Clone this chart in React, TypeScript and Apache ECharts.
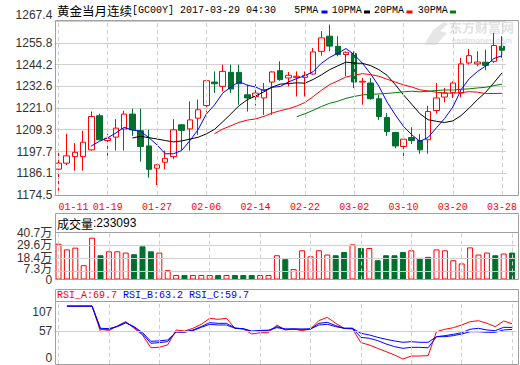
import React, { useEffect, useRef } from "react";
import * as echarts from "echarts";

// ---------- data ----------
const dates = [
  "01-11","01-12","01-13","01-16","01-17","01-18","01-19","01-20","01-23","01-24",
  "01-25","01-26","01-27","01-30","01-31","02-01","02-02","02-03","02-06","02-07",
  "02-08","02-09","02-10","02-13","02-14","02-15","02-16","02-17","02-20","02-21",
  "02-22","02-23","02-24","02-27","02-28","03-01","03-02","03-03","03-06","03-07",
  "03-08","03-09","03-10","03-13","03-14","03-15","03-16","03-17","03-20","03-21",
  "03-22","03-23","03-24","03-27","03-28"
];
const gridDates = ["01-11","01-19","01-27","02-06","02-14","02-22","03-02","03-10","03-20","03-28"];

const opens = [
  1188.3,1191.5,1195.0,1195.0,1198.6,1216.8,1203.6,1205.4,1209.7,1217.7,
  1208.8,1200.7,1188.8,1192.0,1195.0,1212.0,1209.8,1215.5,1222.3,1234.8,
  1232.5,1240.0,1240.0,1228.0,1227.1,1226.3,1234.8,1240.9,1237.0,1237.3,
  1237.3,1239.1,1251.2,1259.3,1253.9,1249.5,1250.0,1234.8,1234.3,1225.9,
  1215.9,1207.9,1200.4,1205.2,1203.6,1204.0,1219.6,1226.8,1229.3,1228.9,
  1245.0,1244.5,1245.4,1245.9,1253.9
];
const closes = [
  1191.5,1195.4,1197.3,1202.7,1216.4,1204.0,1204.8,1210.2,1217.7,1209.3,
  1200.4,1188.2,1190.6,1194.1,1209.3,1209.0,1214.6,1220.0,1235.5,1233.9,
  1240.5,1231.1,1233.9,1226.3,1228.9,1230.7,1240.2,1236.1,1238.4,1237.9,
  1238.4,1250.9,1258.4,1254.0,1249.5,1250.7,1234.8,1235.2,1225.9,1216.4,
  1208.4,1200.7,1204.3,1203.6,1198.6,1219.1,1226.3,1228.9,1234.3,1244.5,
  1248.9,1245.5,1243.7,1254.3,1251.8
];
const lows = [
  1176.8,1190.5,1187.5,1187.5,1198.2,1203.6,1195.4,1198.2,1198.2,1206.1,
  1192.3,1183.8,1179.8,1188.2,1193.6,1198.6,1198.2,1206.6,1218.6,1229.0,
  1229.8,1229.0,1222.7,1219.1,1222.2,1217.3,1217.3,1235.5,1232.5,1227.1,
  1227.1,1238.8,1248.9,1251.2,1248.6,1237.9,1231.6,1222.7,1225.4,1214.6,
  1206.1,1199.5,1194.7,1201.8,1196.5,1196.5,1217.9,1224.0,1226.3,1226.6,
  1244.1,1243.2,1241.1,1245.0,1247.7
];
const highs = [
  1199.0,1207.2,1202.2,1208.8,1219.1,1217.9,1207.2,1215.0,1219.5,1220.5,
  1220.5,1209.3,1190.9,1198.2,1215.0,1212.3,1224.5,1225.4,1236.1,1240.5,
  1244.1,1244.1,1244.1,1233.4,1233.8,1234.3,1240.5,1245.9,1240.2,1240.5,
  1240.5,1253.0,1262.0,1265.5,1259.3,1251.1,1251.2,1237.0,1237.0,1228.0,
  1218.2,1208.2,1206.1,1210.7,1207.0,1222.2,1234.3,1231.6,1235.2,1247.7,
  1252.5,1251.2,1252.1,1261.1,1259.3
];
// volume in units of 万 (10,000)
const volumes = [
  31.0,26.1,27.6,12.4,36.2,21.0,24.4,24.4,23.3,21.9,
  28.7,24.4,23.3,8.1,3.9,3.9,3.9,3.9,3.9,3.9,
  3.9,3.9,3.9,3.9,3.9,3.9,21.0,17.6,9.0,25.3,
  20.1,25.3,21.6,21.0,23.8,30.4,27.3,27.3,16.7,21.0,
  21.0,23.8,25.3,18.7,19.6,26.1,25.3,16.7,13.9,27.8,
  21.6,23.3,21.0,22.5,23.3
];
const rsiA = [
  null,100,100,100,100,55.9,57.6,65.7,73.2,61.7,
  50.2,28,29,33,58.8,57,61.7,68.6,79,77.2,
  79,61.7,60.5,51.9,54,54.2,67.4,58.8,60.5,57.6,
  60.5,75,80.7,70.3,61.7,60.5,37,32.9,27,21.4,
  15.6,8.6,13.8,13.8,14.4,55.8,60,62.7,67.4,73.1,
  74.8,70.3,64.5,74.3,69.7
];
const rsiB = [
  null,100,100,100,100,60.0,60.0,65.2,72.0,63.5,
  52.0,35.8,37,38.6,56,55.5,58.8,64.6,71.5,70.3,
  70.3,62,60.8,55.9,57,57.6,64.6,60.5,60.5,60,
  60.5,70.3,72,66.3,61.7,61.7,46,44.4,40.4,34.6,
  30,27.1,28.8,28.8,28,47.2,49,51.3,54.1,60,
  61.7,58.8,57.6,63.4,63.2
];
const rsiC = [
  null,100,100,100,100,61.7,61.1,64.6,71.0,64.6,
  54.2,39.2,40,41.5,55,55,57.6,63.4,68.6,67.4,
  67.4,62,61,57,58,58.5,62.9,60,60.5,60.3,
  60.5,67.4,68.6,64.6,61.7,61.7,53,50.2,46.1,42.7,
  39.8,37.5,38.6,37.5,37.5,47.2,47.2,49,51.8,55.8,
  55.8,54.8,54.8,58.8,59.7
];

const priceMin = 1174.5;
const priceMax = 1267.4;
const priceStep = 11.6125;
const priceTickLabels = ["1174.5","1186.1","1197.7","1209.3","1221.0","1232.6","1244.2","1255.8","1267.4"];
const volTickValues = [0, 7.3, 18.4, 29.6, 40.7];
const volTickLabels = ["0", "7.3万", "18.4万", "29.6万", "40.7万"];
const rsiTickValues = [0, 57, 107];
const rsiTickLabels = ["0", "57", "107"];

const titleName = "黄金当月连续";
const titleCode = "[GC00Y] 2017-03-29 04:30";
const volumeHeader = "233093";
const rsiHeader = ["RSI_A:69.7", "RSI_B:63.2", "RSI_C:59.7"];

// ---------- styles ----------
const RED = "#ff0000";
const GREEN = "#00702f";
const BLUE = "#0000ff";
const BORDER = "#a0a0a0";
const GRIDC = "#cfcfcf";
const MONO = "'Liberation Mono', 'DejaVu Sans Mono', monospace";
const SANS = "'Liberation Sans', Arial, 'Noto Sans CJK SC', sans-serif";
const CJK = "'Noto Sans CJK SC', sans-serif";

function movingAverage(values: number[], n: number) {
  return values.map((_, i) => {
    if (i < n - 1) return null;
    let s = 0;
    for (let k = i - n + 1; k <= i; k++) s += values[k];
    return +(s / n).toFixed(2);
  });
}

const vLines = gridDates.map((d) => ({ xAxis: d }));
const dashed = { type: [4, 3] as any, color: GRIDC, width: 1 };

function gridMarkSeries(xi: number, hValues: number[]) {
  return {
    type: "line",
    xAxisIndex: xi,
    yAxisIndex: xi,
    data: dates.map(() => null),
    z: 1,
    silent: true,
    symbol: "none",
    markLine: {
      silent: true,
      symbol: "none",
      label: { show: false },
      animation: false,
      lineStyle: dashed,
      data: [
        ...vLines,
        ...hValues.map((v) => ({ yAxis: v, lineStyle: { type: "solid", color: GRIDC, width: 1 } })),
      ],
    },
  };
}

export default function App() {
  const ref = useRef<HTMLDivElement>(null);
  useEffect(() => {
    document.body.style.margin = "0";
    const chart = echarts.init(ref.current!, undefined, { renderer: "svg" });
    const candle = dates.map((_, i) => [opens[i], closes[i], lows[i], highs[i]]);
    const maDefs = [
      { n: 5, color: BLUE },
      { n: 10, color: "#000000" },
      { n: 20, color: RED },
      { n: 30, color: "#008000" },
    ];
    const yLabelBase = {
      fontSize: 12, color: "#333", fontFamily: SANS, margin: 2,
      hideOverlap: false, showMinLabel: true, showMaxLabel: true,
    };
    const volFormatter = (v: number) => {
      const i = volTickValues.indexOf(v);
      const s = volTickLabels[i] ?? "";
      return i === 1 ? `{up|${s}}` : s;
    };
    const volAxis = (vals: number[]) => ({
      type: "value",
      gridIndex: 1,
      min: 0,
      max: 40.7,
      position: "left",
      offset: 0,
      axisLine: { show: false },
      axisTick: { show: false, customValues: vals },
      splitLine: { show: false },
      axisLabel: {
        ...yLabelBase,
        customValues: vals,
        formatter: volFormatter,
        rich: {
          up: { fontSize: 12, color: "#333", fontFamily: SANS, padding: [0, 0, 5, 0] },
        },
      },
    });
    const option: any = {
      animation: false,
      backgroundColor: "#ffffff",
      grid: [
        { left: 54.3, width: 462, top: 21, height: 174 },
        { left: 54.3, width: 462, top: 232.5, height: 47 },
        { left: 54.3, width: 462, top: 301.5, height: 62.5 },
      ],
      xAxis: [0, 1, 2].map((g) => ({
        type: "category",
        gridIndex: g,
        data: dates,
        boundaryGap: true,
        axisLine: { show: false },
        axisTick: { show: false },
        splitLine: { show: false },
        axisLabel:
          g === 0
            ? {
                show: true,
                interval: (idx: number, val: string) => gridDates.includes(val),
                color: RED,
                fontFamily: MONO,
                fontSize: 10,
                margin: 7,
                alignMinLabel: "left",
              }
            : { show: false },
      })),
      yAxis: [
        {
          type: "value",
          gridIndex: 0,
          min: priceMin,
          max: priceMax,
          interval: priceStep,
          axisLine: { show: false },
          axisTick: { show: false },
          splitLine: { show: true, lineStyle: { color: GRIDC, width: 1 } },
          axisLabel: {
            ...yLabelBase,
            verticalAlignMaxLabel: "bottom",
            formatter: (v: number) => priceTickLabels[Math.round((v - priceMin) / priceStep)] ?? "",
          },
        },
        // volume labels split over two axes of the same grid so that none is auto-hidden
        volAxis([volTickValues[0], volTickValues[2], volTickValues[4]]),
        {
          type: "value",
          gridIndex: 2,
          min: 0,
          max: 108,
          axisLine: { show: false },
          axisTick: { show: false, customValues: rsiTickValues },
          splitLine: { show: false },
          axisLabel: {
            ...yLabelBase,
            customValues: rsiTickValues,
            verticalAlignMinLabel: "bottom",
            verticalAlignMaxLabel: "top",
            formatter: (v: number) => {
              const i = rsiTickValues.indexOf(v);
              const s = rsiTickLabels[i] ?? "";
              return i === 2 ? `{dn|${s}}` : s;
            },
            rich: {
              dn: { fontSize: 12, color: "#333", fontFamily: SANS, padding: [4, 0, 0, 0] },
            },
          },
        },
        volAxis([volTickValues[1], volTickValues[3]]),
      ],
      series: [
        gridMarkSeries(0, []),
        {
          type: "candlestick",
          xAxisIndex: 0,
          yAxisIndex: 0,
          z: 3,
          barWidth: 6,
          data: candle,
          itemStyle: {
            color: "rgba(255,255,255,0)",
            color0: GREEN,
            borderColor: RED,
            borderColor0: GREEN,
            borderColorDoji: RED,
            borderWidth: 1,
          },
        },
        ...maDefs.map((m) => ({
          type: "line",
          xAxisIndex: 0,
          yAxisIndex: 0,
          z: 4,
          data: movingAverage(closes, m.n),
          symbol: "none",
          showSymbol: false,
          lineStyle: { color: m.color, width: 1 },
          connectNulls: false,
        })),
        gridMarkSeries(1, volTickValues.slice(1, 4)),
        {
          type: "bar",
          xAxisIndex: 1,
          yAxisIndex: 1,
          z: 3,
          barWidth: 6,
          data: volumes.map((v, i) => ({
            value: v,
            itemStyle:
              closes[i] >= opens[i]
                ? { color: "#ffffff", borderColor: RED, borderWidth: 1 }
                : { color: GREEN, borderColor: GREEN, borderWidth: 1 },
          })),
        },
        gridMarkSeries(2, [57]),
        ...[
          { d: rsiA, c: RED },
          { d: rsiB, c: BLUE },
          { d: rsiC, c: BLUE },
        ].map((r) => ({
          type: "line",
          xAxisIndex: 2,
          yAxisIndex: 2,
          z: 4,
          data: r.d,
          symbol: "none",
          showSymbol: false,
          lineStyle: { color: r.c, width: 1 },
        })),
      ],
      graphic: [
        { type: "rect", z: 50, silent: true, shape: { x: 55.5, y: 20.5, width: 463, height: 175 }, style: { fill: "none", stroke: BORDER, lineWidth: 1 } },
        { type: "rect", z: 50, silent: true, shape: { x: 55.5, y: 213.5, width: 463, height: 66 }, style: { fill: "none", stroke: BORDER, lineWidth: 1 } },
        { type: "line", z: 50, silent: true, shape: { x1: 55.5, y1: 232.5, x2: 518.5, y2: 232.5 }, style: { stroke: BORDER, lineWidth: 1 } },
        { type: "rect", z: 50, silent: true, shape: { x: 55.5, y: 289.5, width: 463, height: 75 }, style: { fill: "none", stroke: BORDER, lineWidth: 1 } },
        { type: "line", z: 50, silent: true, shape: { x1: 55.5, y1: 301.5, x2: 518.5, y2: 301.5 }, style: { stroke: BORDER, lineWidth: 1 } },
        // watermark
        {
          type: "polygon", z: 0, silent: true,
          shape: { points: [[424, 45], [433, 30], [444, 22], [448, 24], [440, 31], [447, 33], [436, 45]] },
          style: { fill: "#e6e6e6" },
        },
        { type: "text", z: 0, silent: true, x: 449, y: 26.5, style: { text: "东方财富网", font: `bold 13px ${CJK}`, fill: "#e2e2e2", verticalAlign: "middle" } },
        { type: "text", z: 0, silent: true, x: 452, y: 40, style: { text: "eastmoney.com", font: `bold 8px ${SANS}`, fill: "#e2e2e2", verticalAlign: "middle" } },
        // title
        {
          type: "text", z: 60, x: 57, y: 10.5,
          style: {
            text: `{c|${titleName}}{m|${titleCode}}`,
            verticalAlign: "middle",
            fill: "#000",
            rich: {
              c: { fontFamily: CJK, fontSize: 12.5, fill: "#000", color: "#000" },
              m: { fontFamily: MONO, fontSize: 10, fill: "#000", color: "#000" },
            },
          },
        },
        ...[
          { t: "5PMA", x: 294.3, rx: 321.5, c: BLUE },
          { t: "10PMA", x: 331.7, rx: 364, c: "#000000" },
          { t: "20PMA", x: 374, rx: 406.5, c: RED },
          { t: "30PMA", x: 417.7, rx: 450, c: "#008000" },
        ].flatMap((l) => [
          { type: "text", z: 60, x: l.x, y: 10.5, style: { text: l.t, font: `10px ${MONO}`, fill: "#000", verticalAlign: "middle" } },
          { type: "rect", z: 60, shape: { x: l.rx, y: 10.5, width: 6, height: 3 }, style: { fill: l.c } },
        ]),
        // volume header
        {
          type: "text", z: 60, x: 57, y: 223,
          style: {
            text: `{c|成交量}{n|:${volumeHeader}}`,
            verticalAlign: "middle",
            fill: "#000",
            rich: {
              c: { fontFamily: CJK, fontSize: 12, fill: "#000", color: "#000" },
              n: { fontFamily: SANS, fontSize: 12, fill: "#000", color: "#000" },
            },
          },
        },
        // rsi header
        {
          type: "text", z: 60, x: 57, y: 295,
          style: {
            text: `{a|${rsiHeader[0]}} {b|${rsiHeader[1]}} {b|${rsiHeader[2]}}`,
            verticalAlign: "middle",
            font: `10px ${MONO}`,
            fill: BLUE,
            rich: {
              a: { fontFamily: MONO, fontSize: 10, fill: RED, color: RED },
              b: { fontFamily: MONO, fontSize: 10, fill: BLUE, color: BLUE },
            },
          },
        },
      ],
    };
    chart.setOption(option);
    return () => chart.dispose();
  }, []);
  return <div ref={ref} style={{ width: 520, height: 365 }} />;
}
